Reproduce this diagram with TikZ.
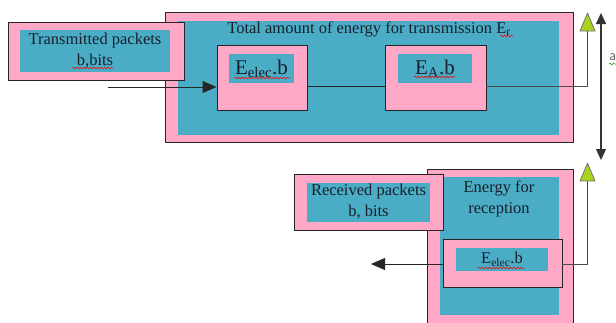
\documentclass[tikz,border=0pt]{standalone}
\usepackage{fontspec}
\setmainfont{Liberation Serif}
\newfontfamily\tnr{Liberation Serif}
\usetikzlibrary{arrows.meta,decorations.pathmorphing}
\definecolor{pinkc}{HTML}{FFA8C8}
\definecolor{tealc}{HTML}{4BACC6}
\definecolor{greenc}{HTML}{A8D41E}
\definecolor{txt}{HTML}{18202A}
\begin{document}
\begin{tikzpicture}[x=1pt,y=-1pt,
  outerbox/.style={draw=black!85, fill=pinkc, line width=0.9pt, inner sep=0pt},
  innerbox/.style={fill=tealc, inner sep=0pt},
  lbl/.style={text=txt, font=\tnr\fontsize{16.5}{21}\selectfont, align=center, inner sep=0pt},
  biglbl/.style={text=txt, font=\tnr\fontsize{21}{24}\selectfont, inner sep=0pt},
  conn/.style={draw=black!85, line width=0.9pt},
  tri/.style={draw=black!55, fill=greenc, line width=0.8pt, line join=round},
  squig/.style={draw=red, line width=0.5pt, decorate, decoration={snake, segment length=3.5pt, amplitude=0.9pt}},
]
\useasboundingbox (0,0) rectangle (616,322);
% transmission box
\node[outerbox, minimum width=408pt, minimum height=130pt] (tx) at (369,77) {};
\node[innerbox, minimum width=381pt, minimum height=114pt] (txin) at (368.5,78) {};
\node[lbl] (txtitle) at (369,29) {Total amount of energy for transmission E\textsubscript{r}};
% transmitted packets
\node[outerbox, minimum width=176pt, minimum height=58pt] (tp) at (96,51) {};
\node[innerbox, minimum width=150pt, minimum height=42pt] (tpin) at (95,51) {};
\node[lbl] (tptxt) at (95,51) {Transmitted packets\\b,bits};
% Eelec box
\node[outerbox, minimum width=90pt, minimum height=65pt] (elec) at (262,77.5) {};
\node[innerbox, minimum width=65pt, minimum height=29pt] (elecin) at (261.5,68.5) {};
\node[biglbl] (electxt) at (261.5,68.5) {E\textsubscript{elec}.b};
% EA box
\node[outerbox, minimum width=101pt, minimum height=65pt] (ea) at (435.5,77.5) {};
\node[innerbox, minimum width=74pt, minimum height=29pt] (eain) at (435,68.5) {};
\node[biglbl] (eatxt) at (435,68.5) {E\textsubscript{A}.b};
% connectors in transmission
\coordinate (start) at (108,87);
\draw[conn, -{Triangle[length=14pt,width=12pt]}] (start) -- ([yshift=-9.5pt]elec.west);
\draw[conn] ([yshift=-8.5pt]elec.east) -- ([yshift=-8.5pt]ea.west);
\coordinate (t1b) at (587.5,31);
\draw[conn, draw=black!70] ([yshift=-8.5pt]ea.east) -| (t1b);
\draw[tri] (580,31) -- (587.5,13) -- (595,31) -- cycle;
% double arrow
\coordinate (da1) at (601,13);
\coordinate (da2) at (601,160);
\draw[conn, line width=1.1pt, draw=black!80, {Triangle[length=11pt,width=10pt]}-{Triangle[length=11pt,width=10pt]}] (da1) -- (da2);
\node[text=black!60, font=\fontsize{15}{18}\sffamily, anchor=west, inner sep=0pt] (aa) at (609,57) {a};
% reception box
\node[outerbox, minimum width=146pt, minimum height=161pt] (rx) at (500,249.5) {};
\node[innerbox, minimum width=119pt, minimum height=138pt] (rxin) at (499.5,246) {};
\node[lbl] (rxtitle) at (499,199) {Energy for\\reception};
% received packets
\node[outerbox, minimum width=149pt, minimum height=56pt] (rp) at (368.5,202) {};
\node[innerbox, minimum width=123pt, minimum height=39pt] (rpin) at (368.5,202.5) {};
\node[lbl] (rptxt) at (368.5,202) {Received packets\\b, bits};
% receive Eelec box
\node[outerbox, minimum width=119pt, minimum height=48pt] (relec) at (502.5,263) {};
\node[innerbox, minimum width=92pt, minimum height=23pt] (relecin) at (502,259.5) {};
\node[lbl] (relectxt) at (502,259.5) {E\textsubscript{elec}.b};
\coordinate (outl) at (371,264);
\draw[conn, -{Triangle[length=14pt,width=12pt]}] ([yshift=-1pt]relec.west) -- (outl);
\coordinate (t2b) at (587.5,181);
\draw[conn, draw=black!70] ([yshift=-1pt]relec.east) -| (t2b);
\draw[tri] (580,181) -- (587.5,163) -- (595,181) -- cycle;
% spelling squiggles
\draw[squig] (72,68) -- (113,68);
\draw[squig] (234,78) -- (290,78);
\draw[squig] (414,77) -- (455,77);
\draw[squig] (500,36) -- (513,36);
\draw[squig] (478,268) -- (524,268);
\draw[squig, draw=green!60!black] (609,64) -- (616,64);
\end{tikzpicture}
\end{document}
